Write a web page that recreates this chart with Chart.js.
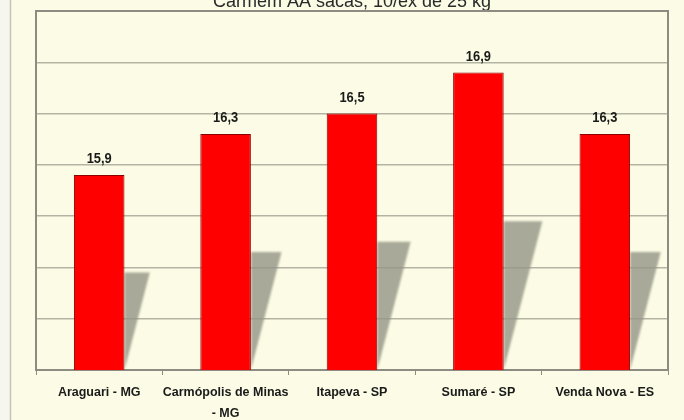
<!DOCTYPE html>
<html lang="pt-BR">
<head>
<meta charset="utf-8">
<title>Produtividade por local</title>
<script src="https://cdn.jsdelivr.net/npm/chart.js@4.4.0/dist/chart.umd.min.js"></script>
<style>
    html, body { margin: 0; padding: 0; background: #fcfce6; }
    #wrap { width: 684px; height: 420px; position: relative; }
    #yield-chart { filter: blur(0.4px); }
</style>
</head>
<body>
<div id="wrap"><canvas id="yield-chart" width="684" height="420"></canvas></div>
<script>
(function() {
    'use strict';

    const categories = [
        ['Araguari - MG'],
        ['Carmópolis de Minas', '- MG'],
        ['Itapeva - SP'],
        ['Sumaré - SP'],
        ['Venda Nova - ES']
    ];
    const yields = [15.9, 16.3, 16.5, 16.9, 16.3];
    const yMin = 14;
    const yMax = 17.5;
    const yStep = 0.5;
    const titleText = 'Carmem AA sacas, 10/ex de 25 kg';

    const FONT = "'Liberation Sans', Arial, sans-serif";
    const PAGE_BG = '#fcfce6';
    const FRAME = '#8c8c82';
    const GRID = '#b4b4a4';

    class YieldChart {
        constructor(canvasId) {
            this.canvas = document.getElementById(canvasId);
            this.chart = null;
            this.init();
        }

        init() {
            this.chart = new Chart(this.canvas.getContext('2d'), {
                type: 'bar',
                data: {
                    labels: categories,
                    datasets: [{
                        data: yields,
                        backgroundColor: '#ff0000',
                        borderColor: '#8a0000',
                        borderWidth: 1,
                        barPercentage: 0.8,
                        categoryPercentage: 0.5
                    }]
                },
                options: {
                    responsive: false,
                    animation: false,
                    layout: { padding: { left: 36, right: 16, top: 11, bottom: 0 } },
                    plugins: {
                        legend: { display: false },
                        tooltip: { enabled: false }
                    },
                    scales: {
                        x: {
                            offset: true,
                            grid: {
                                display: true,
                                drawOnChartArea: false,
                                offset: true,
                                tickLength: 5,
                                color: FRAME,
                                lineWidth: 1
                            },
                            border: { display: true, color: FRAME, width: 2 },
                            ticks: {
                                autoSkip: false,
                                maxRotation: 0,
                                padding: 7,
                                color: '#1a1a1a',
                                font: { family: FONT, size: 12.5, weight: 'bold', lineHeight: 1.68 }
                            },
                            afterFit: (scale) => { scale.height = 50; }
                        },
                        y: {
                            min: yMin,
                            max: yMax,
                            ticks: { display: false, stepSize: yStep },
                            grid: { color: GRID, lineWidth: 1.5, drawTicks: false },
                            border: { display: true, color: FRAME, width: 2 },
                            afterFit: (scale) => { scale.width = 0; }
                        }
                    }
                },
                plugins: [this.backgroundPlugin(), this.shadowPlugin(), this.framePlugin(), this.valueLabelPlugin()]
            });
        }

        backgroundPlugin() {
            return {
                id: 'pageBackground',
                beforeDraw: (chart) => {
                    const ctx = chart.ctx;
                    ctx.save();
                    ctx.fillStyle = PAGE_BG;
                    ctx.fillRect(0, 0, chart.width, chart.height);
                    ctx.fillStyle = '#f6f6ee';
                    ctx.fillRect(0, 0, 10, chart.height);
                    ctx.strokeStyle = '#c4c4b8';
                    ctx.lineWidth = 1.5;
                    ctx.beginPath();
                    ctx.moveTo(10.5, 0);
                    ctx.lineTo(10.5, chart.height);
                    ctx.stroke();

                    // heading sits partly above the canvas edge
                    ctx.fillStyle = '#2a2a2a';
                    ctx.font = '18px ' + FONT;
                    ctx.textAlign = 'center';
                    ctx.textBaseline = 'alphabetic';
                    const area = chart.chartArea;
                    ctx.fillText(titleText, (area.left + area.right) / 2, 7);
                    ctx.restore();
                }
            };
        }

        // grey slanted shadow behind each bar, half the bar's height
        shadowPlugin() {
            return {
                id: 'barShadow',
                beforeDatasetsDraw: (chart) => {
                    const ctx = chart.ctx;
                    const yScale = chart.scales.y;
                    const bottom = yScale.getPixelForValue(yMin);
                    const meta = chart.getDatasetMeta(0);
                    ctx.save();
                    ctx.fillStyle = 'rgba(150, 150, 135, 0.82)';
                    ctx.filter = 'blur(0.8px)';
                    meta.data.forEach((bar, i) => {
                        const top = yScale.getPixelForValue(yMin + (yields[i] - yMin) / 2);
                        const right = bar.x + bar.width / 2;
                        const lean = (bottom - top) * 0.26;
                        ctx.beginPath();
                        ctx.moveTo(right, bottom);
                        ctx.lineTo(right, top);
                        ctx.lineTo(right + lean, top);
                        ctx.closePath();
                        ctx.fill();
                    });
                    ctx.restore();
                }
            };
        }

        framePlugin() {
            return {
                id: 'plotFrame',
                afterDatasetsDraw: (chart) => {
                    const area = chart.chartArea;
                    const ctx = chart.ctx;
                    ctx.save();
                    ctx.strokeStyle = FRAME;
                    ctx.lineWidth = 2;
                    ctx.beginPath();
                    ctx.moveTo(area.left, area.top);
                    ctx.lineTo(area.right, area.top);
                    ctx.lineTo(area.right, area.bottom);
                    ctx.stroke();
                    ctx.restore();
                }
            };
        }

        valueLabelPlugin() {
            return {
                id: 'valueLabels',
                afterDatasetsDraw: (chart) => {
                    const ctx = chart.ctx;
                    const meta = chart.getDatasetMeta(0);
                    ctx.save();
                    ctx.fillStyle = '#1a1a1a';
                    ctx.font = 'bold 15px ' + FONT;
                    ctx.textAlign = 'center';
                    ctx.textBaseline = 'alphabetic';
                    meta.data.forEach((bar, i) => {
                        const text = yields[i].toFixed(1).replace('.', ',');
                        // slightly condensed digits
                        ctx.save();
                        ctx.translate(bar.x, bar.y - 12);
                        ctx.scale(0.86, 1);
                        ctx.fillText(text, 0, 0);
                        ctx.restore();
                    });
                    ctx.restore();
                }
            };
        }
    }

    window.yieldChart = new YieldChart('yield-chart');
})();
</script>
</body>
</html>
